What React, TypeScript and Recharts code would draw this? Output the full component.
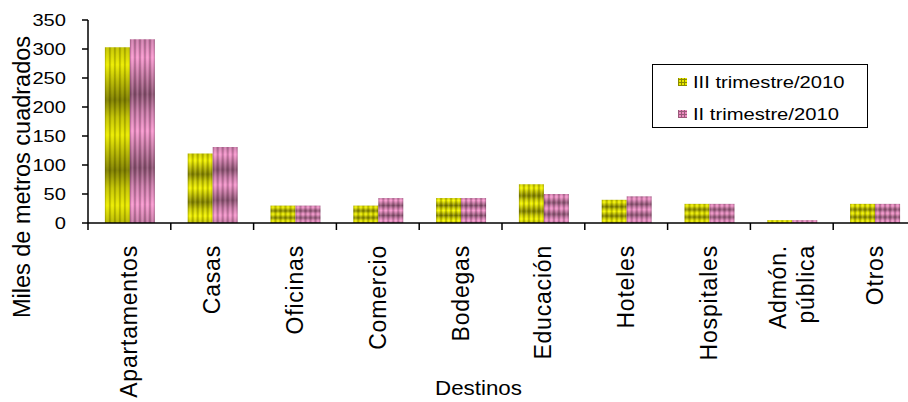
import React from "react";
import { BarChart, Bar, XAxis, YAxis } from "recharts";

const categories = [
  "Apartamentos",
  "Casas",
  "Oficinas",
  "Comercio",
  "Bodegas",
  "Educación",
  "Hoteles",
  "Hospitales",
  "Admón. pública",
  "Otros",
];
const trimestreIII = [303, 120, 30, 30, 43, 67, 40, 33, 5, 33];
const trimestreII = [317, 131, 30, 43, 43, 50, 46, 33, 5, 33];
const yTicks = [0, 50, 100, 150, 200, 250, 300, 350];
const seriesNames = ["III trimestre/2010", "II trimestre/2010"];

const data = categories.map((name, i) => ({
  name,
  iii: trimestreIII[i],
  ii: trimestreII[i],
}));

const FONT = '"Liberation Sans", Arial, sans-serif';
const CHART_W = 930;
const CHART_H = 402;
const Y_AXIS_W = 88;
const MARGIN_RIGHT = 14;
const PLOT_W = CHART_W - Y_AXIS_W - MARGIN_RIGHT;

function XTick(props: any) {
  const { x, y, payload } = props;
  const band = PLOT_W / categories.length;
  const lines = String(payload.value).split(" ");
  const gap = 28;
  return (
    <g>
      <line x1={x - band / 2} x2={x - band / 2} y1={y} y2={y + 7} stroke="#000" strokeWidth={1.5} />
      {lines.map((ln, i) => {
        const cx = x + (i - (lines.length - 1) / 2) * gap;
        return (
          <text
            key={i}
            transform={`translate(${cx},${y + 22}) rotate(-90)`}
            textAnchor="end"
            dominantBaseline="central"
            fontSize={23}
            letterSpacing={0.8}
            fontFamily={FONT}
            fill="#000"
          >
            {ln}
          </text>
        );
      })}
    </g>
  );
}

function YTick(props: any) {
  const { x, y, payload } = props;
  return (
    <text
      transform={`translate(${x},${y}) scale(1.22,1)`}
      textAnchor="end"
      dominantBaseline="central"
      fontSize={16.5}
      fontFamily={FONT}
      fill="#000"
    >
      {payload.value}
    </text>
  );
}

function Textures() {
  const tex = (id: string, bright: string, dark: string, mid: string) => (
    <>
      <linearGradient id={`v-${id}`} x1="0" y1="0" x2="0" y2="1">
        <stop offset="0" stopColor={mid} />
        <stop offset="0.25" stopColor={bright} />
        <stop offset="0.75" stopColor={dark} />
        <stop offset="1" stopColor={mid} />
      </linearGradient>
      <pattern
        id={id}
        patternUnits="objectBoundingBox"
        patternContentUnits="objectBoundingBox"
        width="0.2"
        height="0.4"
      >
        <rect width="0.2" height="0.4" fill={`url(#v-${id})`} />
        <rect width="0.2" height="0.4" fill="url(#stripe)" />
      </pattern>
    </>
  );
  return (
    <svg width={0} height={0} style={{ position: "absolute" }}>
      <defs>
        <linearGradient id="stripe" x1="0" y1="0" x2="1" y2="0">
          <stop offset="0" stopColor="#000" stopOpacity={0.3} />
          <stop offset="0.3" stopColor="#000" stopOpacity={0} />
          <stop offset="0.5" stopColor="#fff" stopOpacity={0.15} />
          <stop offset="0.7" stopColor="#000" stopOpacity={0} />
          <stop offset="1" stopColor="#000" stopOpacity={0.3} />
        </linearGradient>
        {tex("texIII", "#f6f600", "#858500", "#cccc00")}
        {tex("texII", "#f798ce", "#8e5574", "#cc7caa")}
      </defs>
    </svg>
  );
}

const swatch = (bg: string, line: string): React.CSSProperties => ({
  display: "inline-block",
  width: 9,
  height: 8,
  marginRight: 6,
  backgroundColor: bg,
  backgroundImage: `repeating-linear-gradient(90deg, ${line} 0 1px, transparent 1px 3px), repeating-linear-gradient(0deg, ${line} 0 1px, transparent 1px 3px)`,
});

export default function App() {
  return (
    <div
      style={{
        position: "absolute",
        left: 0,
        top: 0,
        width: 908,
        height: CHART_H,
        overflow: "hidden",
        background: "#fff",
        fontFamily: FONT,
      }}
    >
      <Textures />
      <BarChart
        width={CHART_W}
        height={CHART_H}
        data={data}
        margin={{ top: 20, right: MARGIN_RIGHT, left: 0, bottom: 0 }}
        barCategoryGap="20.4%"
        barGap={0}
      >
        <XAxis
          dataKey="name"
          height={179}
          interval={0}
          tickLine={false}
          tickSize={0}
          tickMargin={0}
          tick={<XTick />}
          axisLine={{ stroke: "#000", strokeWidth: 1.5 }}
        />
        <YAxis
          width={Y_AXIS_W}
          domain={[0, 350]}
          ticks={yTicks}
          tickSize={6}
          tickMargin={16}
          tick={<YTick />}
          tickLine={{ stroke: "#000", strokeWidth: 1.5 }}
          axisLine={{ stroke: "#000", strokeWidth: 1.5 }}
        />
        <Bar dataKey="iii" name={seriesNames[0]} fill="url(#texIII)" isAnimationActive={false} />
        <Bar dataKey="ii" name={seriesNames[1]} fill="url(#texII)" isAnimationActive={false} />
      </BarChart>

      {/* y axis title */}
      <div
        style={{
          position: "absolute",
          left: 23,
          top: 177,
          transform: "translate(-50%,-50%) rotate(-90deg)",
          whiteSpace: "nowrap",
          fontSize: 23.5,
          lineHeight: 1,
        }}
      >
        Miles de metros cuadrados
      </div>

      {/* x axis title */}
      <div
        style={{
          position: "absolute",
          left: 435,
          top: 378,
          whiteSpace: "nowrap",
          fontSize: 20.5,
          lineHeight: 1,
          transform: "scaleX(1.09)",
          transformOrigin: "left",
        }}
      >
        Destinos
      </div>

      {/* legend */}
      <div
        style={{
          position: "absolute",
          left: 652,
          top: 64,
          width: 214,
          height: 62,
          border: "1.5px solid #000",
          fontSize: 16.3,
          lineHeight: 1,
        }}
      >
        {seriesNames.map((s, i) => (
          <div
            key={s}
            style={{
              position: "absolute",
              left: 25,
              top: i === 0 ? 9 : 41,
              display: "flex",
              alignItems: "center",
              whiteSpace: "nowrap",
            }}
          >
            <span style={i === 0 ? swatch("#e8e800", "#8a8a00") : swatch("#ec8cc0", "#9a5a7a")} />
            <span style={{ display: "inline-block", transform: "scaleX(1.24)", transformOrigin: "left" }}>{s}</span>
          </div>
        ))}
      </div>
    </div>
  );
}
